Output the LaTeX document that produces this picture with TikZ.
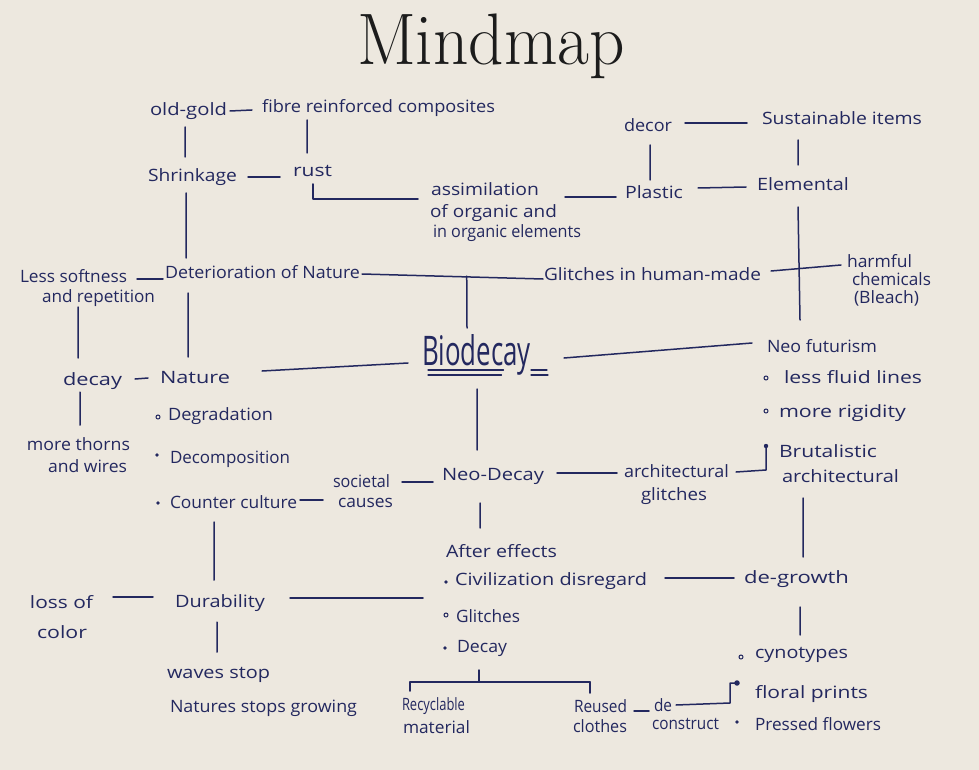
\documentclass[tikz,border=0pt]{standalone}
\usepackage{fontspec}
\usepackage{graphicx}
\newfontfamily\handfont{Open Sans}
\usetikzlibrary{calc}
\definecolor{ink}{RGB}{35,40,95}
\definecolor{paper}{RGB}{237,232,223}
\definecolor{titleink}{RGB}{28,28,28}
\newcommand{\hw}[2]{\resizebox{#1pt}{\height}{#2}}
\begin{document}
\begin{tikzpicture}[x=1pt,y=-1pt,
  hw/.style={font=\handfont\fontsize{17}{20}\selectfont, text=ink, inner sep=0pt, outer sep=0pt, text height=11pt, text depth=4pt, anchor=base west},
  big/.style={font=\handfont\fontsize{30}{34}\selectfont, text=ink, inner sep=0pt, outer sep=0pt, text height=22pt, text depth=8pt, anchor=base west},
  conn/.style={draw=ink, line width=1.5pt, line cap=round, line join=round},
  dotb/.style={fill=ink},
  doto/.style={draw=ink, line width=1pt}]
\useasboundingbox (0,0) rectangle (979,770);
\fill[paper] (0,0) rectangle (979,770);

% title
\node[anchor=base, inner sep=0pt, text=titleink] (title) at (491,65) {\resizebox{268pt}{\height}{\fontsize{73}{80}\selectfont Mindmap}};

% nodes
\node[hw] (oldgold) at (150,116) {\hw{77}{old-gold}};
\node[hw] (fibre) at (262,113) {\hw{233}{fibre reinforced composites}};
\node[hw] (shrink) at (148,182) {\hw{89}{Shrinkage}};
\node[hw] (rust) at (293,177) {\hw{39}{rust}};
\node[hw] (assim1) at (431,195) {\hw{108}{assimilation}};
\node[hw] (assim2) at (430,217) {\hw{127}{of organic and}};
\node[hw] (assim3) at (433,237) {\hw{148}{in organic elements}};
\node[hw] (decor) at (624,132) {\hw{48}{decor}};
\node[hw] (sust) at (762,125) {\hw{160}{Sustainable items}};
\node[hw] (plastic) at (625,198) {\hw{58}{Plastic}};
\node[hw] (elemental) at (757,190) {\hw{92}{Elemental}};
\node[hw] (glitches) at (544,280) {\hw{217}{Glitches in human-made}};
\node[hw] (harm1) at (847,267) {\hw{65}{harmful}};
\node[hw] (harm2) at (852,285) {\hw{79}{chemicals}};
\node[hw] (harm3) at (854,303) {\hw{65}{(Bleach)}};
\node[hw] (less1) at (20,282) {\hw{107}{Less softness}};
\node[hw] (less2) at (42,302) {\hw{113}{and repetition}};
\node[hw] (deter) at (165,278) {\hw{195}{Deterioration of Nature}};
\node[hw] (decayL) at (63,385) {\hw{59}{decay}};
\node[hw] (nature) at (160,383) {\hw{70}{Nature}};
\node[big] (bio) at (422,365) {\resizebox{109pt}{31pt}{Biodecay}};
\node[hw] (neofut) at (767,352) {\hw{110}{Neo futurism}};
\node[hw] (fluid) at (784,383) {\hw{138}{less fluid lines}};
\node[hw] (rigid) at (779,417) {\hw{127}{more rigidity}};
\node[hw] (brut) at (779,457) {\hw{98}{Brutalistic}};
\node[hw] (arch2) at (782,482) {\hw{117}{architectural}};
\node[hw] (neodecay) at (442,480) {\hw{102}{Neo-Decay}};
\node[hw] (archg1) at (624,477) {\hw{105}{architectural}};
\node[hw] (archg2) at (641,500) {\hw{66}{glitches}};
\node[hw] (soc1) at (333,487) {\hw{57}{societal}};
\node[hw] (soc2) at (338,507) {\hw{55}{causes}};
\node[hw] (degr) at (168,420) {\hw{105}{Degradation}};
\node[hw] (decomp) at (170,463) {\hw{120}{Decomposition}};
\node[hw] (counter) at (170,508) {\hw{127}{Counter culture}};
\node[hw] (thorns1) at (27,450) {\hw{103}{more thorns}};
\node[hw] (thorns2) at (48,472) {\hw{79}{and wires}};
\node[hw] (after) at (446,557) {\hw{111}{After effects}};
\node[hw] (civ) at (455,585) {\hw{192}{Civilization disregard}};
\node[hw] (glit) at (456,622) {\hw{64}{Glitches}};
\node[hw] (decayB) at (457,652) {\hw{50}{Decay}};
\node[hw] (degrowth) at (744,583) {\hw{105}{de-growth}};
\node[hw] (cyno) at (755,658) {\hw{93}{cynotypes}};
\node[hw] (floral) at (755,698) {\hw{113}{floral prints}};
\node[hw] (pressed) at (755,730) {\hw{126}{Pressed flowers}};
\node[hw] (reused1) at (574,712) {\hw{53}{Reused}};
\node[hw] (reused2) at (573,732) {\hw{54}{clothes}};
\node[hw] (de1) at (654,711) {\hw{18}{de}};
\node[hw] (de2) at (652,729) {\hw{67}{construct}};
\node[hw] (recyc1) at (402,710) {\hw{63}{Recyclable}};
\node[hw] (recyc2) at (403,733) {\hw{67}{material}};
\node[hw] (dura) at (175,607) {\hw{90}{Durability}};
\node[hw] (loss1) at (30,608) {\hw{63}{loss of}};
\node[hw] (loss2) at (37,638) {\hw{50}{color}};
\node[hw] (waves) at (167,678) {\hw{103}{waves stop}};
\node[hw] (natstop) at (170,712) {\hw{187}{Natures stops growing}};

% Biodecay underline
\draw[conn, line width=1.3pt] ($(bio.south)+(-48.5,-3)$) -- ($(bio.south)+(27,-3)$);
\draw[conn, line width=1.3pt] ($(bio.south)+(-48.5,2)$) -- ($(bio.south)+(25,2)$);
\draw[conn, line width=1.3pt] ($(bio.south)+(54.5,-3)$) -- ($(bio.south)+(70.5,-3)$);
\draw[conn, line width=1.3pt] ($(bio.south)+(54.5,2)$) -- ($(bio.south)+(71.5,2)$);

% connectors
\draw[conn] ($(oldgold.east)+(3,-1.5)$) -- ($(fibre.west)+(-10,0.5)$);
\draw[conn] ($(oldgold.south)+(-3.5,7)$) -- ($(shrink.north)+(-7.5,-14)$);
\draw[conn] ($(fibre.south)+(-71.5,3)$) -- ($(rust.north)+(-5.5,-13)$);
\draw[conn] ($(shrink.east)+(11,-1.5)$) -- ($(rust.west)+(-13,3.5)$);
\draw[conn] ($(rust.south)+(0.5,3)$) |- ($(assim1.west)+(-13,7.5)$);
\draw[conn] ($(assim1.east)+(26,5.5)$) -- ($(plastic.west)+(-9,2.5)$);
\draw[conn] ($(decor.south)+(2,9)$) -- ($(plastic.north)+(-4,-7)$);
\draw[conn] ($(decor.east)+(13,-5.5)$) -- ($(sust.west)+(-15,1.5)$);
\draw[conn] ($(sust.south)+(-44,11)$) -- ($(elemental.north)+(-5,-14)$);
\draw[conn] ($(plastic.east)+(15,-6.5)$) -- ($(elemental.west)+(-11,0.5)$);
\draw[conn] ($(elemental.south)+(-5,13)$) -- ($(neofut.north)+(-22,-21)$);
\draw[conn] ($(glitches.east)+(10,-5.5)$) -- ($(harm1.west)+(-6,1.5)$);
\draw[conn] ($(deter.east)+(2,-0.5)$) -- ($(glitches.west)+(-1,2.5)$);
\coordinate (j1) at ($(deter.east)!0.58!(glitches.west)$);
\draw[conn] ($(j1)+(0,0.5)$) -- ($(bio.north)+(-9.5,-15)$);
\draw[conn] ($(less1.east)+(10,0.5)$) -- ($(deter.west)+(-2,4.5)$);
\draw[conn] ($(shrink.south)+(-6.5,7)$) -- ($(deter.north)+(-76.5,-9)$);
\draw[conn] ($(less2.south)+(-20.5,1)$) -- ($(decayL.north)+(-14.5,-16)$);
\draw[conn] ($(deter.south)+(-74.5,11)$) -- ($(nature.north)+(-7,-15)$);
\draw[conn] ($(decayL.east)+(13,-2.5)$) -- ($(nature.west)+(-12,-1.5)$);
\draw[conn] ($(nature.east)+(32,-8.5)$) -- ($(bio.west)+(-14,5)$);
\draw[conn] ($(decayL.south)+(-12.5,3)$) -- ($(thorns1.north)+(1.5,-14)$);
\draw[conn] ($(bio.east)+(33,0)$) -- ($(neofut.west)+(-15,-5.5)$);
\draw[conn] ($(bio.south)+(0.5,16)$) -- ($(neodecay.north)+(-16,-19)$);
\draw[conn] ($(counter.east)+(3,-4.5)$) -- ($(soc1.west)+(-10,16.5)$);
\draw[conn] ($(soc1.east)+(12,-1.5)$) -- ($(neodecay.west)+(-9,5.5)$);
\draw[conn] ($(neodecay.east)+(13,-3.5)$) -- ($(archg1.west)+(-7,-0.5)$);
\draw[conn] ($(archg1.east)+(7,-1.5)$) -- ($(brut.west)+(-13,16.5)$) -- ($(brut.west)+(-13,-6.5)$);
\fill[dotb] ($(brut.west)+(-13,-7.5)$) circle (2.2pt);
\draw[conn] ($(arch2.south)+(-37.5,12)$) -- ($(degrowth.north)+(6.5,-15)$);
\draw[conn] ($(neodecay.south)+(-13,19)$) -- ($(after.north)+(-21.5,-18)$);
\draw[conn] ($(counter.south)+(-19.5,10)$) -- ($(dura.north)+(-6,-16)$);
\draw[conn] ($(loss1.east)+(20,-7.5)$) -- ($(dura.west)+(-22,-6.5)$);
\draw[conn] ($(dura.east)+(25,-5.5)$) -- ($(civ.west)+(-32,16.5)$);
\draw[conn] ($(dura.south)+(-3,11)$) -- ($(waves.north)+(-1.5,-15)$);
\draw[conn] ($(civ.east)+(18,-3.5)$) -- ($(degrowth.west)+(-10,-1.5)$);
\draw[conn] ($(degrowth.south)+(3.5,20)$) -- ($(cyno.north)+(-1.5,-12)$);
\coordinate (brR) at ($(reused1.north)+(-10.5,-19)$);
\draw[conn] ($(recyc1.north)+(-23.5,-8)$) |- (brR) -- ($(reused1.north)+(-10.5,-8)$);
\draw[conn] ($(decayB.south)+(-3,14)$) |- (brR);
\draw[conn] ($(reused1.east)+(7,2.5)$) -- ($(de1.west)+(-5,3.5)$);
\draw[conn] ($(de1.east)+(4,-2.5)$) -- ($(floral.west)+(-25,8.5)$) -- ($(floral.west)+(-25,-11.5)$) -- ($(floral.west)+(-18,-11.5)$);

% bullets
\draw[doto] ($(degr.west)+(-10,0.5)$) circle (2pt);
\fill[dotb] ($(decomp.west)+(-13,-4.5)$) circle (1.8pt);
\fill[dotb] ($(counter.west)+(-12,-1.5)$) circle (1.8pt);
\draw[doto] ($(fluid.west)+(-18,-1.5)$) circle (2pt);
\draw[doto] ($(rigid.west)+(-13,-2.5)$) circle (2pt);
\fill[dotb] ($(civ.west)+(-9,0.5)$) circle (1.8pt);
\draw[doto] ($(glit.west)+(-10,-3.5)$) circle (2pt);
\fill[dotb] ($(decayB.west)+(-12,-0.5)$) circle (1.8pt);
\draw[doto] ($(cyno.west)+(-14,2.5)$) circle (2pt);
\draw[doto, fill=ink] ($(floral.west)+(-18,-11.5)$) circle (2.2pt);
\fill[dotb] ($(pressed.west)+(-18,-4.5)$) circle (1.8pt);
\end{tikzpicture}
\end{document}
